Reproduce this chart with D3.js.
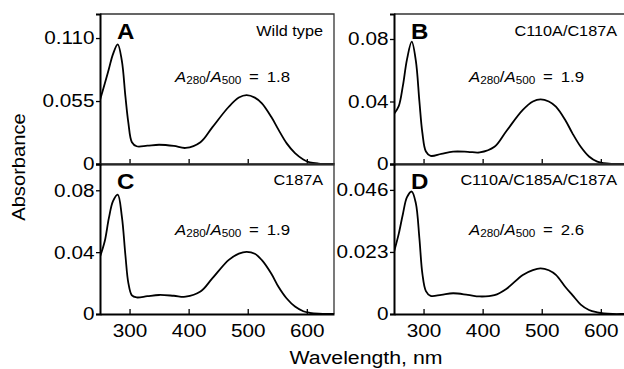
<!DOCTYPE html>
<html><head><meta charset="utf-8">
<script src="https://cdn.jsdelivr.net/npm/d3@7"></script>
<style>html,body{margin:0;padding:0;background:#fff;}svg{display:block;}</style>
</head><body>
<svg id="chart" width="624" height="369"></svg>
<script>
// ---- data ----
const wavelengths = [250,258,265,272,280,287,293,298,304,312,330,350,375,395,420,440,468,485,498,512,524,540,552,566,580,594,605,620,640,650];
const wildType    = [0.056,0.070,0.083,0.096,0.1045,0.090,0.059,0.036,0.019,0.0155,0.0160,0.0168,0.0158,0.0140,0.019,0.032,0.050,0.058,0.0602,0.058,0.053,0.041,0.030,0.018,0.0095,0.004,0.0015,0.0004,0,0];
const c110aC187a  = [0.032,0.037,0.050,0.067,0.0783,0.066,0.040,0.020,0.008,0.0052,0.0065,0.0079,0.0078,0.0074,0.011,0.021,0.0346,0.040,0.0414,0.040,0.0367,0.028,0.0196,0.011,0.0048,0.0015,0.0005,0.0001,0,0];
const c187a       = [0.037,0.047,0.062,0.073,0.0772,0.063,0.038,0.020,0.012,0.0107,0.0115,0.0123,0.0118,0.0112,0.0145,0.023,0.035,0.039,0.0402,0.039,0.0348,0.026,0.0176,0.010,0.0048,0.0018,0.0008,0.0002,0,0];
const tripleMut   = [0.023,0.0297,0.037,0.0433,0.0454,0.041,0.028,0.015,0.0085,0.0067,0.0071,0.0077,0.0071,0.0065,0.0070,0.0093,0.0145,0.0163,0.0169,0.0162,0.0145,0.010,0.007,0.0035,0.0015,0.0006,0.0002,0,0,0];

const panelLetters = ["A","B","C","D"];
const panelNames   = ["Wild type","C110A/C187A","C187A","C110A/C185A/C187A"];
const ratioValues  = ["1.8","1.9","1.9","2.6"];
const yTickValues  = [[0,0.055,0.110],[0,0.04,0.08],[0,0.04,0.08],[0,0.023,0.046]];
const yTickLabels  = [["0","0.055","0.110"],["0","0.04","0.08"],["0","0.04","0.08"],["0","0.023","0.046"]];
const yMax         = [0.131,0.096,0.097,0.0556];
const xTicks       = [300,400,500,600];
const xDomain      = [250,646];
const xLabel = "Wavelength, nm";
const yLabel = "Absorbance";
const seriesList = [wildType, c110aC187a, c187a, tripleMut];

// ---- layout ----
const SX = 1.12; // horizontal stretch of lettering
const FONT = "'Liberation Sans', Arial, Helvetica, sans-serif";
const panels = [
  {x0:100, y0:14,  row:0},
  {x0:394, y0:14,  row:0},
  {x0:100, y0:164, row:1},
  {x0:394, y0:164, row:1}
];
const PW = 234, PH = 150;

const svg = d3.select("#chart");
const defs = svg.append("defs");

function stretchedText(g, x, y, txt, opts) {
  return g.append("text")
    .attr("transform", `translate(${x},${y}) scale(${SX},1)`)
    .attr("text-anchor", opts.anchor || "start")
    .attr("font-family", FONT)
    .attr("font-size", opts.size)
    .attr("font-weight", opts.weight || "normal")
    .attr("fill", "#000")
    .text(txt);
}

panels.forEach((p, i) => {
  const x = d3.scaleLinear().domain(xDomain).range([p.x0, p.x0 + PW]);
  const y = d3.scaleLinear().domain([0, yMax[i]]).range([p.y0 + PH, p.y0]);
  const g = svg.append("g");

  // frame: thin top/right, heavier left/bottom
  g.append("path")
    .attr("d", `M${p.x0},${p.y0}H${p.x0+PW}V${p.y0+PH}`)
    .attr("fill","none").attr("stroke","#333").attr("stroke-width",1.3);

  // curve
  const cid = "clip" + i;
  defs.append("clipPath").attr("id", cid).append("rect")
    .attr("x", p.x0).attr("y", p.y0).attr("width", PW).attr("height", PH);
  const line = d3.line().x((d, k) => x(wavelengths[k])).y(d => y(d)).curve(d3.curveCatmullRom.alpha(0.5));
  g.append("path")
    .attr("clip-path", `url(#${cid})`)
    .attr("d", line(seriesList[i]))
    .attr("fill","none").attr("stroke","#000").attr("stroke-width",1.8)
    .attr("stroke-linejoin","round");

  // y axis
  const ya = g.append("g").attr("transform", `translate(${p.x0},0)`)
    .call(d3.axisLeft(y).tickValues(yTickValues[i])
      .tickFormat((d, k) => yTickLabels[i][k]).tickSize(4).tickPadding(1));
  ya.select(".domain").attr("stroke-width", 2).attr("stroke","#000");
  ya.selectAll(".tick line").attr("stroke-width", 1.3);
  ya.selectAll(".tick text")
    .attr("font-family", FONT).attr("font-size", 18.5).attr("fill","#000")
    .attr("transform", `scale(${SX},1)`);

  // x axis (ticks inward)
  const xa = g.append("g").attr("transform", `translate(0,${p.y0 + PH})`)
    .call(d3.axisBottom(x).tickValues(xTicks)
      .tickFormat(p.row === 1 ? d3.format("d") : () => "")
      .tickSize(-5).tickSizeOuter(0).tickPadding(10));
  xa.select(".domain").attr("stroke-width", 2).attr("stroke","#000");
  xa.selectAll(".tick line").attr("stroke-width", 1.3);
  xa.selectAll(".tick text")
    .attr("font-family", FONT).attr("font-size", 18.5).attr("fill","#000")
    .attr("transform", `scale(${SX},1)`);

  // panel letter
  stretchedText(g, p.x0 + 17, p.y0 + 24.5, panelLetters[i], {size: 21.5, weight: "bold"});
  // panel name
  stretchedText(g, p.x0 + 223, p.y0 + (p.row === 0 ? 21.5 : 20.5), panelNames[i], {size: 14.5, anchor: "end"});

  // ratio text
  const rx = p.x0 + 75, ry = p.y0 + (p.row === 0 ? 68 : 70.5);
  const t = g.append("text")
    .attr("transform", `translate(${rx},${ry}) scale(${SX},1)`)
    .attr("font-family", FONT).attr("font-size", 15).attr("fill", "#000");
  t.append("tspan").attr("font-style","italic").text("A");
  t.append("tspan").attr("font-size", 10.5).attr("dy", 2).text("280");
  t.append("tspan").attr("dy", -2).text("/");
  t.append("tspan").attr("font-style","italic").text("A");
  t.append("tspan").attr("font-size", 10.5).attr("dy", 2).text("500");
  t.append("tspan").attr("dy", -2).attr("dx", 7).text("=");
  t.append("tspan").attr("dx", 7).text(ratioValues[i]);
});

// axis titles
svg.append("text")
  .attr("transform", `translate(366,364) scale(${SX},1)`)
  .attr("text-anchor","middle").attr("font-family", FONT).attr("font-size", 19)
  .attr("fill","#000").text(xLabel);
svg.append("text")
  .attr("transform", `translate(25,167) rotate(-90) scale(${SX},1)`)
  .attr("text-anchor","middle").attr("font-family", FONT).attr("font-size", 18)
  .attr("fill","#000").text(yLabel);
</script>
</body></html>
